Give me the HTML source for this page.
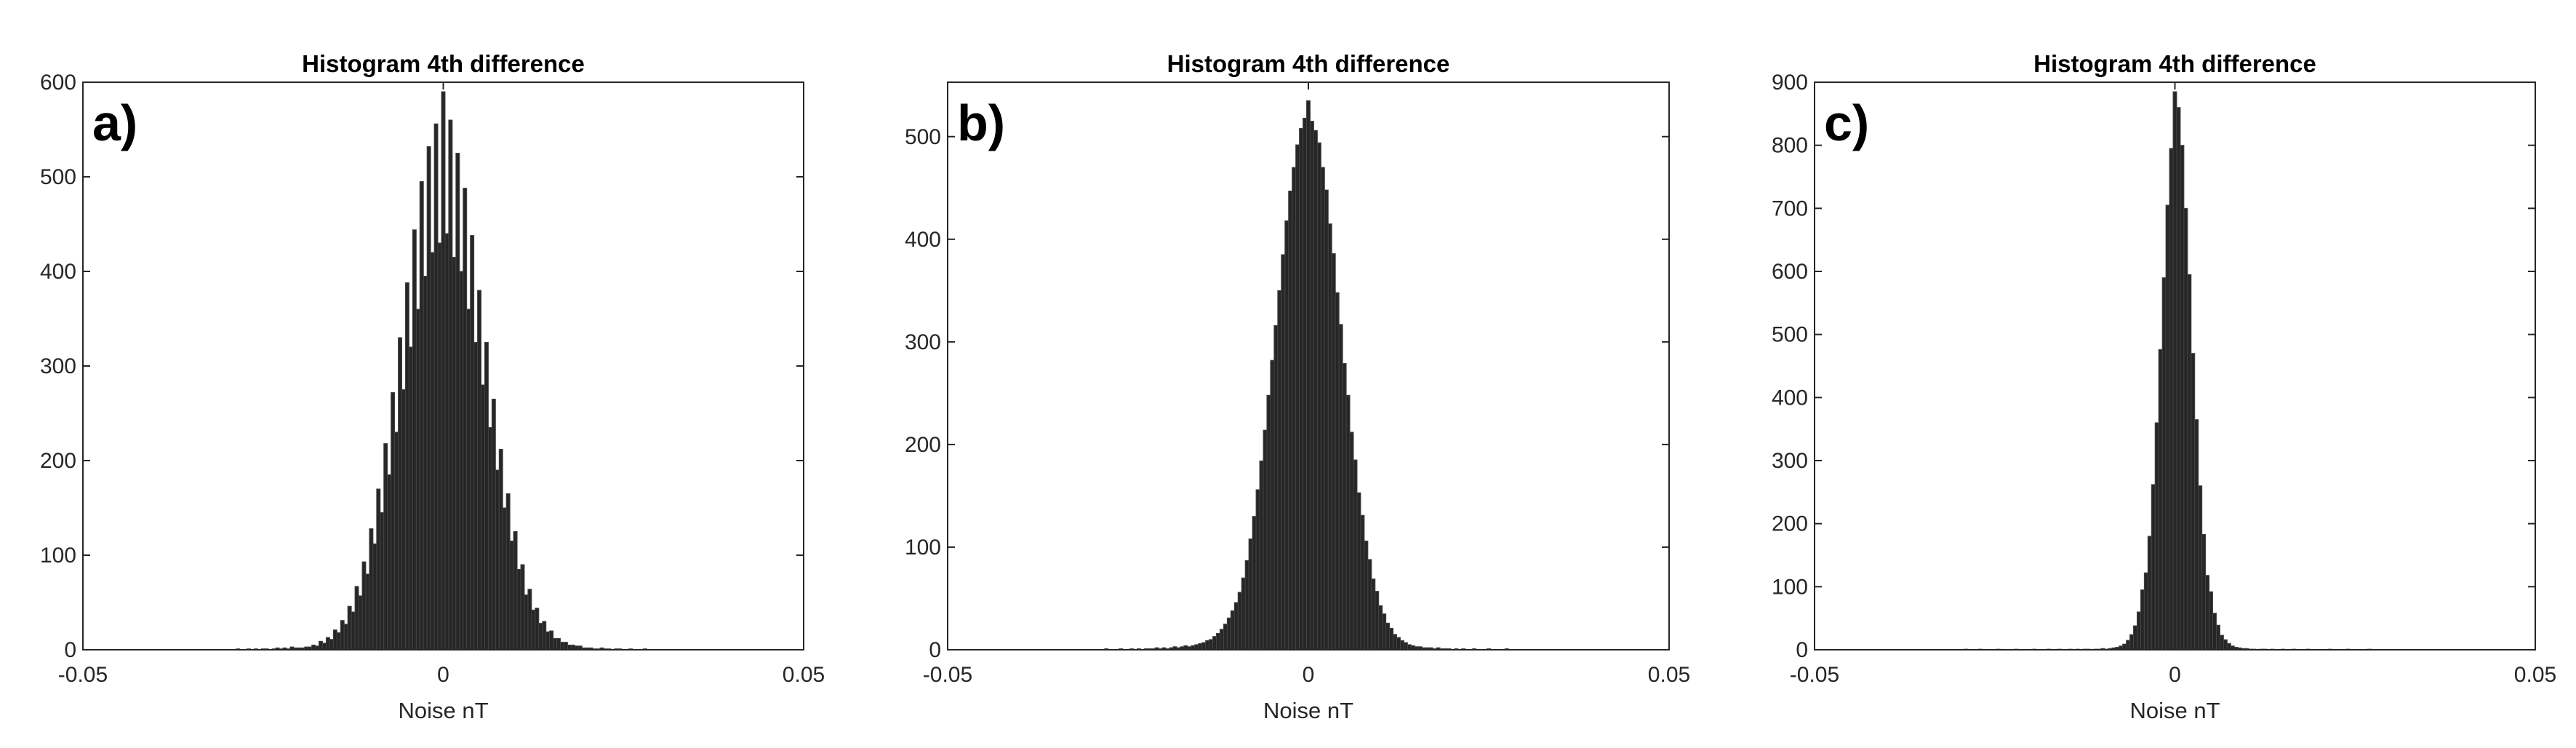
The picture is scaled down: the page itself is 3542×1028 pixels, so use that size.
<!DOCTYPE html>
<html><head><meta charset="utf-8">
<style>
html,body{margin:0;padding:0;background:#fff;}
svg{display:block;}
text{font-family:"Liberation Sans",Arial,sans-serif;fill:#262626;}
</style></head>
<body>
<svg id="chart" width="3542" height="1028" viewBox="0 0 3542 1028" xmlns="http://www.w3.org/2000/svg"></svg>
<script>
// Shared bin centers: -0.03 .. 0.03 step 0.0005 (121 bins)
const binStart = -0.03;
const binWidth = 0.0005;

const countsA = [0,0,0,1,0,0,1,0,1,0,1,1,0,1,2,1,2,1,3,2,
2,2,3,3,5,4,9,7,13,11,21,18,31,27,46,40,67,57,93,80,
128,112,170,145,218,185,272,230,330,275,388,320,444,360,495,395,532,420,556,430,
590,
440,560,415,525,400,488,360,438,325,380,280,325,235,265,190,212,150,165,115,125,
85,90,58,64,42,44,28,30,19,20,12,12,8,8,5,5,4,4,2,2,
2,1,1,2,1,1,0,1,1,0,0,1,0,0,0,1,0,0,0,0];

const countsB = [0,0,0,0,1,0,0,0,1,0,0,1,0,1,0,1,1,1,2,1,
2,1,2,3,2,3,4,3,4,5,
6,7,9,10,13,16,20,25,31,38,46,56,70,87,108,130,156,184,214,248,282,316,350,385,418,447,470,492,508,518,
535,
515,506,494,470,448,415,386,348,317,279,248,212,185,153,131,106,88,69,57,43,35,26,21,15,12,9,7,5,4,3,
3,2,2,2,1,2,1,1,1,0,
1,0,1,0,0,1,0,0,0,1,0,0,0,0,1,0,0,0,0,0];

const countsC = [0,0,1,0,0,0,1,0,0,0,0,1,0,0,0,0,1,0,0,0,0,1,0,0,0,1,0,0,1,0,0,1,0,1,0,1,1,0,1,1,
2,1,2,3,4,6,9,15,24,38,60,95,122,180,262,360,476,590,705,795,
885,
860,800,700,595,470,365,260,183,118,92,58,39,23,16,10,6,4,3,2,2,
1,1,0,1,1,0,1,0,0,1,0,0,1,0,0,0,1,0,0,0,0,0,1,0,0,0,0,1,0,0,0,0,0,1,0,0,0,0,0,0];

const xTickVals = [-0.05, 0, 0.05];
const xTickLabels = ["-0.05", "0", "0.05"];
const yTicksA = [0,100,200,300,400,500,600];
const yTicksB = [0,100,200,300,400,500];
const yTicksC = [0,100,200,300,400,500,600,700,800,900];
const yMaxA = 600, yMaxB = 553, yMaxC = 900;
const panelLabels = ["a)", "b)", "c)"];

const NS = "http://www.w3.org/2000/svg";
const svg = document.getElementById("chart");
function mk(tag, attrs, parent){
  const e = document.createElementNS(NS, tag);
  for (const k in attrs) e.setAttribute(k, attrs[k]);
  (parent||svg).appendChild(e);
  return e;
}

const panels = [
  {left:114, right:1105, counts:countsA, yMax:yMaxA, yTicks:yTicksA, key:"a"},
  {left:1303, right:2295, counts:countsB, yMax:yMaxB, yTicks:yTicksB, key:"b"},
  {left:2495, right:3486, counts:countsC, yMax:yMaxC, yTicks:yTicksC, key:"c"}
];
const axTop = 113, axBottom = 893;

panels.forEach((p, pi) => {
  const g = mk("g", {});
  
  
  const xs = v => p.left + (v + 0.05) / 0.1 * (p.right - p.left);
  const ys = v => axBottom - v / p.yMax * (axBottom - axTop);

  const bars = mk("g", {}, g);
  
  
  p.counts.forEach((c, i) => {
    const x0 = xs(binStart + (i - 0.5) * binWidth);
    const x1 = xs(binStart + (i + 0.5) * binWidth);
    const y = ys(Math.min(c, p.yMax));
    const r = mk("rect", {x:x0, y:y, width:Math.max(x1-x0,0.5), height:Math.max(axBottom-y,0),
      fill:"#262626", stroke:"#444", "stroke-width":1}, bars);
    
    
  });

  const box = mk("rect", {x:p.left, y:axTop, width:p.right-p.left, height:axBottom-axTop, fill:"none", stroke:"#262626", "stroke-width":2}, g);
  
  

  p.yTicks.forEach(t => {
    const y = ys(t);
    mk("line", {x1:p.left, x2:p.left+10, y1:y, y2:y, stroke:"#262626", "stroke-width":2}, g);
    mk("line", {x1:p.right-10, x2:p.right, y1:y, y2:y, stroke:"#262626", "stroke-width":2}, g);
    const tl = mk("text", {x:p.left-9, y:y+10, "font-size":30, "text-anchor":"end"}, g);
    tl.textContent = t;
    
    
  });
  xTickVals.forEach((v, i) => {
    const x = xs(v);
    mk("line", {x1:x, x2:x, y1:axBottom, y2:axBottom-10, stroke:"#262626", "stroke-width":2}, g);
    mk("line", {x1:x, x2:x, y1:axTop, y2:axTop+10, stroke:"#262626", "stroke-width":2}, g);
    const tl = mk("text", {x:x, y:937, "font-size":30, "text-anchor":"middle"}, g);
    tl.textContent = xTickLabels[i];
    
    
  });

  const cx = (p.left + p.right) / 2;
  const title = mk("text", {x:cx, y:99, "font-size":33, "font-weight":"bold", "text-anchor":"middle", style:"fill:#000"}, g);
  title.textContent = "Histogram 4th difference";
  
  

  const xl = mk("text", {x:cx, y:987, "font-size":31, "text-anchor":"middle"}, g);
  xl.textContent = "Noise nT";
  
  

  const pl = mk("text", {x:p.left+13, y:193, "font-size":70, "font-weight":"bold", style:"fill:#000"}, g);
  pl.textContent = panelLabels[pi];
  
  
});
</script>
</body></html>
